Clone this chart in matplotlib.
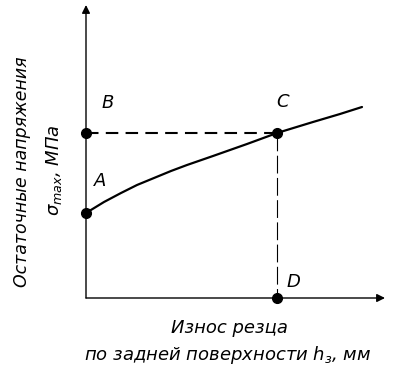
import matplotlib
matplotlib.use("Agg")
import matplotlib.pyplot as plt

# =========================
# DATA (axis units, origin at the axes corner)
# =========================
curve_x = [0, 18, 35, 51, 68, 85, 101, 127, 161, 191, 227, 254, 276]
curve_y = [85, 96, 105, 113, 120, 127, 133, 142, 154, 165, 176, 184, 191]

point_names = ["A", "B", "C", "D"]
point_x = [0, 0, 191, 191]
point_y = [85, 165, 165, 0]

ylabel_lines = ["Остаточные напряжения", r"$\sigma_{max}$, МПа"]
xlabel_lines = ["Износ резца", r"по задней поверхности $h_з$, мм"]

plt.rcParams["font.family"] = ["DejaVu Sans"]
plt.rcParams["font.style"] = "italic"
plt.rcParams["mathtext.fontset"] = "custom"
plt.rcParams["mathtext.it"] = "DejaVu Sans:italic"
plt.rcParams["mathtext.rm"] = "DejaVu Sans:italic"

W, H = 399, 375
fig = plt.figure(figsize=(W / 100, H / 100), dpi=100)
ax = fig.add_axes([86 / W, 77 / H, 299 / W, 293 / H])
ax.set_xlim(0, 299)
ax.set_ylim(0, 293)
ax.axis("off")

# axes with arrows
arrow = dict(arrowstyle="-|>", lw=1, color="k", mutation_scale=12, shrinkA=0, shrinkB=0)
ax.annotate("", xy=(0, 293), xytext=(0, 0), arrowprops=arrow, annotation_clip=False)
ax.annotate("", xy=(299, 0), xytext=(0, 0), arrowprops=arrow, annotation_clip=False)

# curve
ax.plot(curve_x, curve_y, color="k", lw=1.6, solid_capstyle="round",
        solid_joinstyle="round", clip_on=False)

# dashed guides B-C and C-D
ax.plot([point_x[1], point_x[2]], [point_y[1], point_y[2]], color="k", lw=1.5,
        dashes=(6, 3.5), clip_on=False)
ax.plot([point_x[2], point_x[3]], [point_y[2], point_y[3]], color="k", lw=0.8,
        dashes=(16, 4), clip_on=False)

# points
ax.plot(point_x, point_y, "o", color="k", ms=7, clip_on=False)

label_pos = {"A": (14, 117), "B": (22, 195), "C": (197, 196), "D": (207, 16)}
for name in point_names:
    ox, oy = label_pos[name]
    ax.text(ox, oy, name, fontsize=13, ha="center", va="center")

# axis titles
fig.text(22 / W, 1 - 172 / H, ylabel_lines[0], rotation=90, fontsize=12.5,
         ha="center", va="center")
fig.text(54 / W, 1 - 170 / H, ylabel_lines[1], rotation=90, fontsize=13,
         ha="center", va="center")
fig.text(229 / W, 1 - 328 / H, xlabel_lines[0], fontsize=13, ha="center", va="center")
fig.text(228 / W, 1 - 355 / H, xlabel_lines[1], fontsize=13, ha="center", va="center")

fig.savefig("out.png", dpi=100)
